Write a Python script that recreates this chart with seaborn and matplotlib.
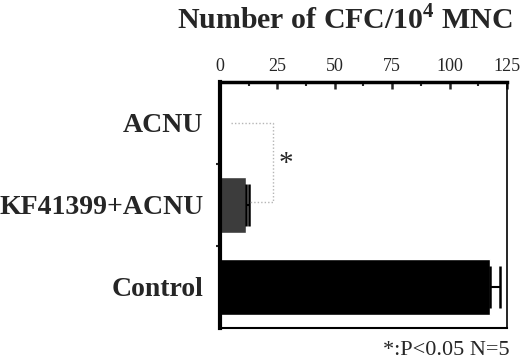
import pandas as pd
import seaborn as sns
import matplotlib.pyplot as plt
from matplotlib.ticker import MultipleLocator, FixedLocator

# Data
groups = ['ACNU', 'KF41399+ACNU', 'Control']
cfc_mean = [0.0, 11.5, 117.5]
cfc_err = [0.0, 1.2, 4.3]
bar_colors = ['#ffffff', '#3c3c3c', '#000000']
x_ticks = [0, 25, 50, 75, 100, 125]

df = pd.DataFrame({'group': groups, 'cfc': cfc_mean})

sns.set_style('white')
plt.rcParams['font.family'] = ['Liberation Serif', 'DejaVu Serif']
plt.rcParams['mathtext.fontset'] = 'custom'
plt.rcParams['mathtext.rm'] = 'Liberation Serif'
plt.rcParams['mathtext.bf'] = 'Liberation Serif:bold'

fig = plt.figure(figsize=(5.2, 3.62), dpi=100)
ax = fig.add_axes([0.423, 0.094, 0.552, 0.68])

sns.barplot(data=df, x='cfc', y='group', hue='group', palette=bar_colors,
            orient='h', width=0.68, legend=False, ax=ax, errorbar=None)

# error bars (upper side only)
for i, (m, e) in enumerate(zip(cfc_mean, cfc_err)):
    if e > 0:
        ax.errorbar(m, i, xerr=[[0], [e]], fmt='none', ecolor='black',
                    elinewidth=1.5, capsize=15, capthick=1.8)

# significance bracket between ACNU and KF41399+ACNU
bx = 23
ax.plot([5, bx, bx, cfc_mean[1] + cfc_err[1]], [0, 0, 0.97, 0.97],
        color='#b5b5b5', lw=1, ls=(0, (1, 1.5)))
ax.text(bx + 5.5, 0.5, '*', fontsize=21, ha='center', va='center')

ax.set_xlim(0, 125)
ax.set_ylim(2.5, -0.5)
ax.xaxis.tick_top()
ax.set_xticks(x_ticks)
ax.xaxis.set_minor_locator(MultipleLocator(12.5))
ax.tick_params(axis='x', which='major', direction='in', top=True, bottom=False,
               length=5, width=1.8, labelsize=13, pad=5)
ax.tick_params(axis='x', which='minor', direction='in', top=True, bottom=False,
               length=3, width=1.5)
ax.yaxis.set_major_locator(FixedLocator([0, 1, 2]))
ax.set_yticklabels(groups, fontsize=20, fontweight='bold')
ax.yaxis.set_minor_locator(FixedLocator([0.5, 1.5]))
ax.tick_params(axis='y', which='major', length=0, pad=12)
ax.tick_params(axis='y', which='minor', direction='out', left=True, length=3, width=1.5)
ax.set_xlabel('')
ax.set_ylabel('')

for s in ax.spines.values():
    s.set_visible(True)
    s.set_color('black')
ax.spines['left'].set_linewidth(3)
ax.spines['top'].set_linewidth(2.5)
ax.spines['right'].set_linewidth(1.2)
ax.spines['bottom'].set_linewidth(1.5)

fig.text(0.663, 0.945, r'Number of CFC/10$^{\mathbf{4}}$ MNC', fontsize=21.5,
         fontweight='bold', ha='center', va='center')
fig.text(0.98, 0.032, '*:P<0.05 N=5', fontsize=16, ha='right', va='center')

fig.savefig('out.png', dpi=100)
